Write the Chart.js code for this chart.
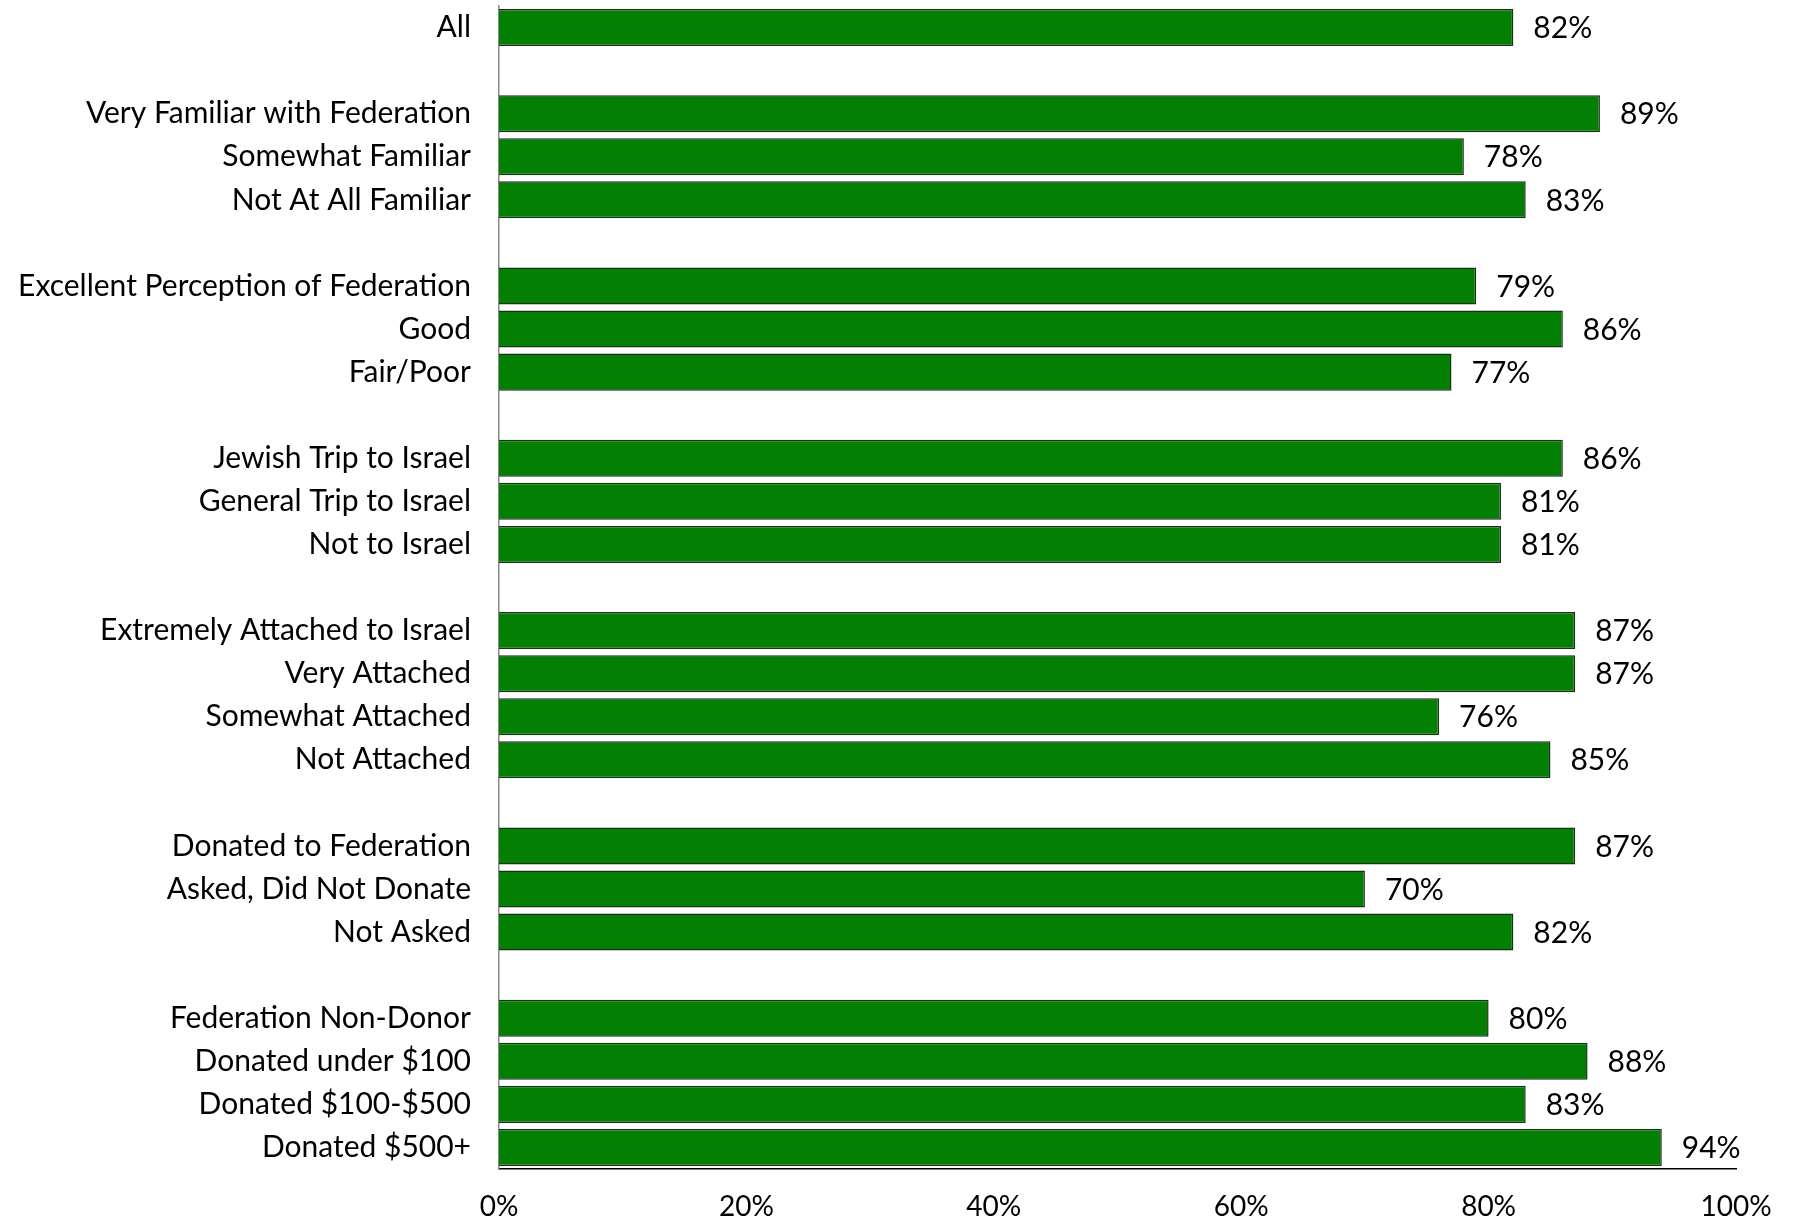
<!DOCTYPE html>
<html>
<head>
<meta charset="utf-8">
<script src="https://cdn.jsdelivr.net/npm/chart.js@4/dist/chart.umd.min.js"></script>
<style>
  html, body { margin: 0; padding: 0; background: #fff; }
  #wrap { width: 1793px; height: 1222px; }
</style>
</head>
<body>
<div id="wrap"><canvas id="satChart"></canvas></div>
<script>
// categories, '' = blank spacer row between groups
const categories = [
  'All', '',
  'Very Familiar with Federation', 'Somewhat Familiar', 'Not At All Familiar', '',
  'Excellent Perception of Federation', 'Good', 'Fair/Poor', '',
  'Jewish Trip to Israel', 'General Trip to Israel', 'Not to Israel', '',
  'Extremely Attached to Israel', 'Very Attached', 'Somewhat Attached', 'Not Attached', '',
  'Donated to Federation', 'Asked, Did Not Donate', 'Not Asked', '',
  'Federation Non-Donor', 'Donated under $100', 'Donated $100-$500', 'Donated $500+'
];
const values = [
  82, null,
  89, 78, 83, null,
  79, 86, 77, null,
  86, 81, 81, null,
  87, 87, 76, 85, null,
  87, 70, 82, null,
  80, 88, 83, 94
];
const xTicks = [0, 20, 40, 60, 80, 100];

const fontFam = 'Lato, "Open Sans", sans-serif';

// draw the % next to each bar
const valueLabels = {
  id: 'valueLabels',
  afterDatasetsDraw(chart) {
    const ctx = chart.ctx;
    const meta = chart.getDatasetMeta(0);
    ctx.save();
    ctx.font = '30px ' + fontFam;
    ctx.fillStyle = '#000';
    ctx.textAlign = 'left';
    ctx.textBaseline = 'middle';
    meta.data.forEach((bar, i) => {
      if (values[i] == null) return;
      ctx.fillText(values[i] + '%', bar.x + 20, bar.y + 1);
    });
    ctx.restore();
  }
};

new Chart(document.getElementById('satChart'), {
  type: 'bar',
  data: {
    labels: categories,
    datasets: [{
      data: values,
      backgroundColor: '#037f03',
      borderColor: '#163316',
      borderWidth: 1.5,
      barPercentage: 0.86,
      categoryPercentage: 1
    }]
  },
  options: {
    indexAxis: 'y',
    responsive: true,
    maintainAspectRatio: false,
    animation: false,
    layout: { padding: { top: 6, right: 57, left: 0, bottom: 0 } },
    plugins: {
      legend: { display: false },
      tooltip: { enabled: false }
    },
    scales: {
      x: {
        min: 0,
        max: 100,
        afterBuildTicks: (s) => { s.ticks = xTicks.map(v => ({ value: v })); },
        grid: { display: false, drawTicks: false },
        border: { display: true, color: '#000', width: 1.5 },
        ticks: {
          padding: 21,
          color: '#000',
          font: { family: fontFam, size: 28 },
          callback: (v) => v + '%'
        },
        afterFit: (s) => {
          s.height = 53;
          s.paddingLeft = 0; s.paddingRight = 0;
        }
      },
      y: {
        grid: { display: false, drawTicks: false },
        border: { display: true, color: '#8a8a8a', width: 1.5 },
        ticks: {
          padding: 28,
          color: '#000',
          autoSkip: false,
          font: { family: fontFam, size: 30 }
        },
        afterFit: (s) => {
          s.width = 499;
          s.paddingTop = 0; s.paddingBottom = 0;
        }
      }
    }
  },
  plugins: [valueLabels]
});
</script>
</body>
</html>
